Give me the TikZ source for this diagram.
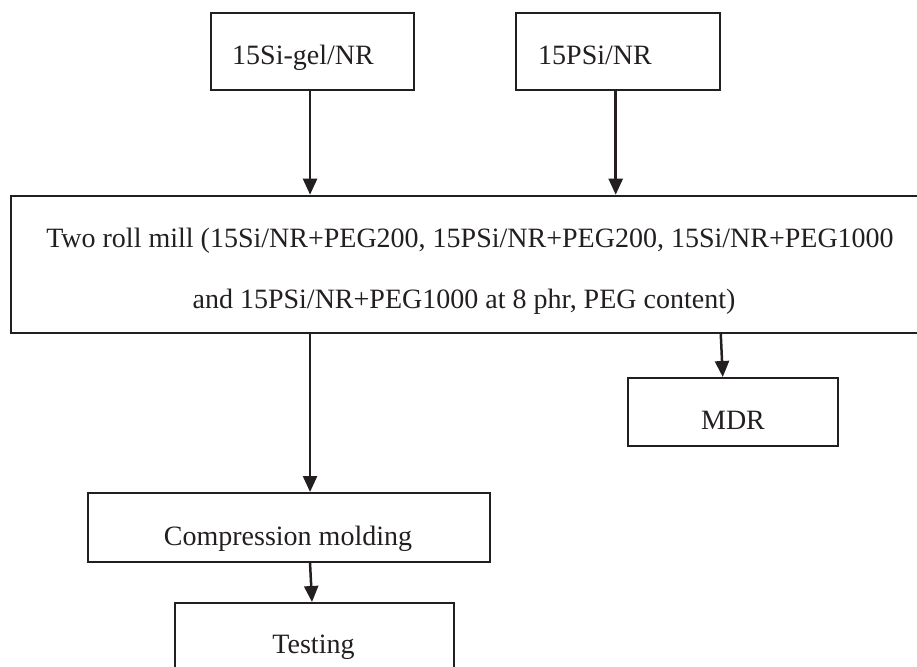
\documentclass[tikz,border=0pt]{standalone}
\usepackage{fontspec}
\setmainfont{Liberation Serif}
\usetikzlibrary{arrows.meta,calc}
\definecolor{ink}{RGB}{35,31,32}
\begin{document}
\begin{tikzpicture}[x=1pt,y=-1pt,
  box/.style={draw=ink, line width=2pt, rectangle, inner sep=0pt},
  txt/.style={text=ink, inner sep=0pt, anchor=base, font=\fontsize{28}{34}\selectfont},
  arr/.style={draw=ink, line width=2.5pt, -{Triangle[length=16pt,width=14pt]}}]
\useasboundingbox (0,0) rectangle (917,666);
% boxes
\node[box, minimum width=203.3pt, minimum height=76.7pt] (b1) at (312.35,51.65) {};
\node[box, minimum width=204pt, minimum height=76.7pt] (b2) at (618,51.65) {};
\node[box, minimum width=914.3pt, minimum height=137pt] (mill) at (467.85,264.2) {};
\node[box, minimum width=210.3pt, minimum height=68pt] (mdr) at (732.85,412) {};
\node[box, minimum width=401.6pt, minimum height=68.7pt] (comp) at (288.8,527.35) {};
\node[box, minimum width=278.6pt, minimum height=77pt] (test) at (314.3,641.5) {};
% texts
\node[txt] (t1) at (303,65) {15Si-gel/NR};
\node[txt] (t2) at (595,65) {15PSi/NR};
\node[txt] (t3) at (470,247.5) {Two roll mill (15Si/NR+PEG200, 15PSi/NR+PEG200, 15Si/NR+PEG1000};
\node[txt] (t4) at (464,308) {and 15PSi/NR+PEG1000 at 8 phr, PEG content)};
\node[txt] (t5) at (733,429.5) {MDR};
\node[txt] (t6) at (288,545) {Compression molding};
\node[txt] (t7) at (313.5,653) {Testing};
% connectors
\coordinate (a1) at ($(b1.south)+(-2.3,0)$);
\draw[arr] (a1) -- (a1 |- mill.north);
\coordinate (a2) at ($(b2.south)+(-2.3,0)$);
\draw[arr] (a2) -- (a2 |- mill.north);
\draw[arr] (a1 |- mill.south) -- (a1 |- comp.north);
\coordinate (a3) at ($(mdr.north)+(-12.1,0)$);
\coordinate (a4) at ($(mdr.north)+(-10.1,0)$);
\draw[arr] (a3 |- mill.south) -- (a4);
\coordinate (a5) at ($(test.north)+(-4.3,0)$);
\coordinate (a6) at ($(test.north)+(-2.3,0)$);
\draw[arr] (a5 |- comp.south) -- (a6);
\end{tikzpicture}
\end{document}
